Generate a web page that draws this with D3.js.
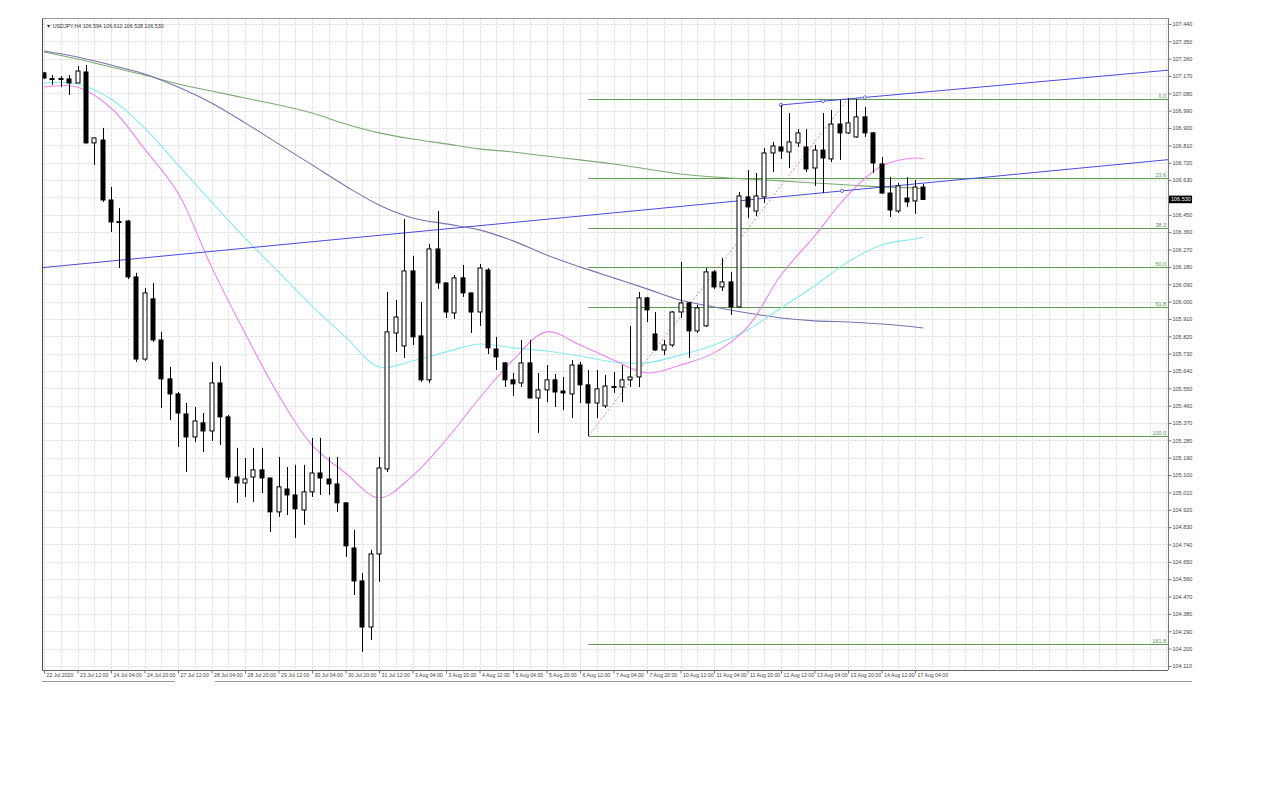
<!DOCTYPE html>
<html><head><meta charset="utf-8">
<script src="https://cdn.jsdelivr.net/npm/d3@7"></script>
<style>
body{margin:0;background:#fff;}
svg{display:block;}
text{font-family:"Liberation Sans",Arial,sans-serif;}
</style>
</head><body>
<svg id="chart" width="1280" height="787"></svg>
<script>
// ---- DATA ----
const title = "\u25BC USDJPY,H4  106.594 106.610 106.528 106.530";
const opens  = [107.186,107.157,107.155,107.155,107.134,107.191,106.823,106.838,106.527,106.415,106.418,106.128,105.702,106.014,105.801,105.599,105.521,105.417,105.298,105.371,105.329,105.578,105.402,105.090,105.059,105.090,105.127,105.085,104.909,105.028,104.997,104.919,105.013,105.111,105.080,105.054,104.956,104.722,104.551,104.312,104.691,105.132,105.837,105.770,106.159,105.822,105.594,106.273,106.097,105.941,106.123,106.045,105.946,106.164,105.754,105.682,105.594,105.578,105.682,105.500,105.542,105.594,105.536,105.521,105.671,105.568,105.474,105.459,105.558,105.557,105.594,105.609,106.019,105.832,105.749,105.775,105.946,105.993,105.848,105.874,106.154,106.076,106.102,105.972,106.543,106.470,106.543,106.771,106.802,106.776,106.823,106.802,106.693,106.786,106.740,106.921,106.875,106.854,106.958,106.875,106.714,106.563,106.470,106.537,106.522,106.594];
const highs  = [107.191,107.175,107.170,107.175,107.222,107.227,106.851,106.901,106.595,106.486,106.423,106.149,106.071,106.097,105.843,105.661,105.531,105.474,105.453,105.422,105.687,105.666,105.412,105.241,105.189,105.241,105.241,105.085,105.194,105.142,105.153,105.153,105.293,105.293,105.194,105.194,104.956,104.816,104.592,104.712,105.194,106.050,106.008,106.429,106.237,105.998,106.299,106.470,106.097,106.138,106.190,106.045,106.195,106.174,105.817,105.687,105.630,105.801,105.801,105.630,105.671,105.625,105.609,105.697,105.687,105.645,105.645,105.620,105.635,105.671,105.874,106.050,106.024,105.946,105.801,105.950,106.206,105.998,105.983,106.174,106.164,106.226,106.154,106.569,106.683,106.667,106.797,106.828,107.020,106.978,106.895,106.895,106.812,106.978,106.994,107.046,107.056,107.052,107.010,106.880,106.750,106.646,106.615,106.646,106.631,106.610];
const lows   = [107.155,107.124,107.113,107.072,107.134,106.820,106.709,106.517,106.361,106.174,106.117,105.687,105.692,105.791,105.448,105.386,105.246,105.116,105.272,105.220,105.277,105.256,105.075,104.956,104.987,104.961,105.007,104.805,104.883,104.893,104.774,104.842,104.987,104.997,104.997,104.909,104.676,104.478,104.183,104.245,104.546,105.116,105.739,105.708,105.775,105.583,105.578,106.066,105.915,105.910,106.024,105.837,105.874,105.728,105.645,105.557,105.511,105.557,105.500,105.319,105.479,105.453,105.438,105.396,105.474,105.303,105.396,105.448,105.526,105.479,105.557,105.557,105.894,105.745,105.723,105.765,105.915,105.708,105.837,105.869,106.066,106.055,105.931,105.967,106.434,106.444,106.512,106.672,106.740,106.693,106.802,106.672,106.600,106.563,106.724,106.735,106.870,106.850,106.854,106.667,106.560,106.439,106.460,106.491,106.455,106.528];
const closes = [107.160,107.155,107.157,107.134,107.196,106.823,106.849,106.527,106.413,106.413,106.128,105.702,106.045,105.801,105.599,105.521,105.422,105.298,105.381,105.329,105.578,105.402,105.090,105.059,105.080,105.127,105.085,104.909,105.039,104.997,104.925,105.013,105.111,105.085,105.054,104.956,104.733,104.551,104.312,104.691,105.137,105.843,105.920,106.159,105.817,105.594,106.273,106.097,105.946,106.123,106.045,105.946,106.174,105.760,105.713,105.594,105.573,105.682,105.500,105.542,105.594,105.531,105.526,105.671,105.568,105.474,105.547,105.562,105.560,105.594,105.609,106.019,105.957,105.749,105.775,105.946,105.993,105.848,105.967,106.154,106.076,106.102,105.972,106.548,106.491,106.548,106.771,106.807,106.781,106.828,106.875,106.688,106.786,106.745,106.921,106.875,106.927,106.958,106.875,106.719,106.563,106.475,106.600,106.517,106.594,106.530];

// moving averages sampled at these bar indices
const maBars  = [0,4,8,12,16,20,24,28,32,36,40,44,48,52,56,60,64,68,72,76,80,84,88,92,96,100,104,105];
const maPink  = [107.113,107.113,107.004,106.792,106.563,106.180,105.837,105.516,105.256,105.111,104.982,105.096,105.282,105.500,105.697,105.843,105.775,105.697,105.630,105.671,105.734,105.868,106.138,106.340,106.553,106.703,106.745,106.740];
const maCyan  = [107.134,107.129,107.051,106.901,106.709,106.517,106.330,106.154,105.977,105.817,105.661,105.692,105.739,105.780,105.760,105.744,105.718,105.687,105.682,105.723,105.775,105.853,105.967,106.081,106.206,106.294,106.325,106.335];
const maSlate = [107.300,107.269,107.227,107.181,107.113,107.030,106.927,106.818,106.709,106.600,106.501,106.434,106.403,106.372,106.315,106.242,106.180,106.123,106.066,106.008,105.972,105.941,105.915,105.900,105.894,105.884,105.868,105.863];
const maGreen = [107.295,107.258,107.217,107.175,107.129,107.092,107.056,107.020,106.978,106.921,106.875,106.843,106.818,106.792,106.776,106.755,106.735,106.714,106.688,106.662,106.646,106.636,106.626,106.615,106.605,106.595,106.589,106.584];

// trend lines: [bar, price] anchors
const trendLower = [[0,106.177],[95.3,106.574]];
const trendUpper = [[88,107.020],[98,107.059]];

// fibonacci retracement
const fibLevels = [0.0,23.6,38.2,50.0,61.8,100.0,161.8];
const fibLabels = ["0.0","23.6","38.2","50.0","61.8","100.0","161.8"];
const fibHigh = 107.052, fibHighBar = 96;
const fibLow  = 105.303, fibLowBar  = 65;

const xTickBars = [0,4,8,12,16,20,24,28,32,36,40,44,48,52,56,60,64,68,72,76,80,84,88,92,96,100,104];
const xLabels = ["22 Jul 2020","23 Jul 12:00","24 Jul 04:00","24 Jul 20:00","27 Jul 12:00","28 Jul 04:00","28 Jul 20:00","29 Jul 12:00","30 Jul 04:00","30 Jul 20:00","31 Jul 12:00","3 Aug 04:00","3 Aug 20:00","4 Aug 12:00","5 Aug 04:00","5 Aug 20:00","6 Aug 12:00","7 Aug 04:00","7 Aug 20:00","10 Aug 12:00","11 Aug 04:00","11 Aug 20:00","12 Aug 12:00","13 Aug 04:00","13 Aug 20:00","14 Aug 12:00","17 Aug 04:00"];
const yTicks = [107.440,107.350,107.260,107.170,107.080,106.990,106.900,106.810,106.720,106.630,106.540,106.450,106.360,106.270,106.180,106.090,106.000,105.910,105.820,105.730,105.640,105.550,105.460,105.370,105.280,105.190,105.100,105.010,104.920,104.830,104.740,104.650,104.560,104.470,104.380,104.290,104.200,104.110];
const lastPrice = 106.530;

// ---- LAYOUT ----
const L = 42, R = 1168, T = 18, B = 670;
const svg = d3.select("#chart");
const x = d3.scaleLinear().domain([0,105]).range([44,923.4]);
const y = d3.scaleLinear().domain([104.089,107.471]).range([B,T]);
const bw = 5;
const snap = v => Math.round(v) + 0.5;

svg.append("defs").append("clipPath").attr("id","clip")
  .append("rect").attr("x",L).attr("y",T).attr("width",R-L).attr("height",B-T);

const plot = svg.append("g").attr("clip-path","url(#clip)");

// grid
const gridCol = "#e3e3e3";
const gridBars = d3.range(0,136,2);
plot.append("g").selectAll("line").data(gridBars).join("line")
  .attr("x1",d=>snap(x(d))).attr("x2",d=>snap(x(d)))
  .attr("y1",T).attr("y2",B)
  .attr("stroke",gridCol).attr("stroke-width",1).attr("stroke-dasharray","3,1");
plot.append("g").selectAll("line").data(yTicks).join("line")
  .attr("x1",L).attr("x2",R)
  .attr("y1",d=>snap(y(d))).attr("y2",d=>snap(y(d)))
  .attr("stroke",gridCol).attr("stroke-width",1).attr("stroke-dasharray","3,1");

// fib lines
const fibPrice = l => fibHigh - (fibHigh - fibLow) * l / 100;
const fibG = plot.append("g");
fibG.selectAll("line").data(fibLevels).join("line")
  .attr("x1",x(fibLowBar)).attr("x2",R)
  .attr("y1",d=>snap(y(fibPrice(d)))).attr("y2",d=>snap(y(fibPrice(d))))
  .attr("stroke","#5f9a55").attr("stroke-width",1);
fibG.selectAll("text").data(fibLevels).join("text")
  .attr("x",R-2).attr("y",d=>snap(y(fibPrice(d)))-1.5)
  .attr("text-anchor","end").attr("font-size","5.4px").attr("fill","#5a9050")
  .text((d,i)=>fibLabels[i]);
fibG.append("line")
  .attr("x1",x(fibLowBar)).attr("y1",y(fibLow))
  .attr("x2",x(fibHighBar)).attr("y2",y(fibHigh))
  .attr("stroke","#e88080").attr("stroke-width",1).attr("stroke-dasharray","2,2");

// moving averages
const maLine = d3.line().x(d=>x(d[0])).y(d=>y(d[1])).curve(d3.curveCatmullRom);
[[maGreen,"#7aab70"],[maSlate,"#7474b0"],[maCyan,"#86eaf0"],[maPink,"#f084f0"]].forEach(([arr,col])=>{
  plot.append("path").datum(maBars.map((b,i)=>[b,arr[i]]))
    .attr("d",maLine).attr("fill","none").attr("stroke",col).attr("stroke-width",1.1);
});

// trend lines
function extend(a, b, b0, b1){
  const s = (b[1]-a[1])/(b[0]-a[0]);
  return [[b0, a[1]+s*(b0-a[0])],[b1, a[1]+s*(b1-a[0])]];
}
const tlCol = "#4a4ade";
const lo = extend(trendLower[0],trendLower[1],-1,136);
const up = extend(trendUpper[0],trendUpper[1],trendUpper[0][0],136);
[lo,up].forEach(seg=>{
  plot.append("line").attr("x1",x(seg[0][0])).attr("y1",y(seg[0][1]))
    .attr("x2",x(seg[1][0])).attr("y2",y(seg[1][1]))
    .attr("stroke",tlCol).attr("stroke-width",1);
});
const upMid = [(trendUpper[0][0]+trendUpper[1][0])/2,(trendUpper[0][1]+trendUpper[1][1])/2];
const handles = [trendUpper[0], upMid, trendUpper[1], trendLower[1]];
plot.append("g").selectAll("circle").data(handles).join("circle")
  .attr("cx",d=>x(d[0])).attr("cy",d=>y(d[1])).attr("r",1.6)
  .attr("fill","#fff").attr("stroke",tlCol).attr("stroke-width",0.8);

// candles
const bars = d3.range(opens.length);
const cg = plot.append("g");
cg.selectAll("line").data(bars).join("line")
  .attr("x1",i=>snap(x(i))).attr("x2",i=>snap(x(i)))
  .attr("y1",i=>y(highs[i])).attr("y2",i=>y(lows[i]))
  .attr("stroke","#000").attr("stroke-width",1);
cg.selectAll("rect").data(bars).join("rect")
  .attr("x",i=>Math.round(x(i))-2)
  .attr("y",i=>y(Math.max(opens[i],closes[i])))
  .attr("width",bw-1)
  .attr("height",i=>Math.max(1,Math.abs(y(opens[i])-y(closes[i]))))
  .attr("fill",i=>closes[i]>=opens[i]?"#fff":"#000")
  .attr("stroke","#000").attr("stroke-width",1);

// frame
svg.append("line").attr("x1",L+0.5).attr("x2",L+0.5).attr("y1",T).attr("y2",B).attr("stroke","#444");
svg.append("line").attr("x1",L).attr("x2",R).attr("y1",T+0.5).attr("y2",T+0.5).attr("stroke","#999");
svg.append("line").attr("x1",L).attr("x2",R).attr("y1",B+0.5).attr("y2",B+0.5).attr("stroke","#666");
svg.append("line").attr("x1",L).attr("x2",175).attr("y1",681.5).attr("y2",681.5).attr("stroke","#999");
svg.append("line").attr("x1",215).attr("x2",1192).attr("y1",681.5).attr("y2",681.5).attr("stroke","#999");

// right axis
const yAxis = d3.axisRight(y).tickValues(yTicks).tickSize(3).tickFormat(d3.format(".3f"));
const ya = svg.append("g").attr("transform",`translate(${R+0.5},0)`).call(yAxis);
ya.select(".domain").attr("stroke","#777").attr("d",`M0,${T}V${B}`);
ya.selectAll(".tick line").attr("stroke","#777");
ya.selectAll(".tick text").attr("font-size","5.5px").attr("fill","#444").attr("x",4)
  .attr("font-family","'Liberation Sans',Arial,sans-serif");

// last price label
svg.append("rect").attr("x",R+1).attr("y",y(lastPrice)-3.8).attr("width",23).attr("height",7.6).attr("fill","#000");
svg.append("text").attr("x",R+3).attr("y",y(lastPrice)+2).attr("font-size","5.5px").attr("fill","#fff")
  .text(d3.format(".3f")(lastPrice));

// bottom axis
const xAxis = d3.axisBottom(x).tickValues(xTickBars).tickSize(3).tickFormat((d,i)=>xLabels[i]);
const xa = svg.append("g").attr("transform",`translate(0,${B+0.5})`).call(xAxis);
xa.select(".domain").remove();
xa.selectAll(".tick line").attr("stroke","#777");
xa.selectAll(".tick text").attr("font-size","5.2px").attr("fill","#444")
  .attr("text-anchor","start").attr("x",2).attr("y",3).attr("dy","0.71em")
  .attr("font-family","'Liberation Sans',Arial,sans-serif");

// title
svg.append("text").attr("x",46).attr("y",28).attr("font-size","5.3px").attr("fill","#333").text(title);
</script>
</body></html>
